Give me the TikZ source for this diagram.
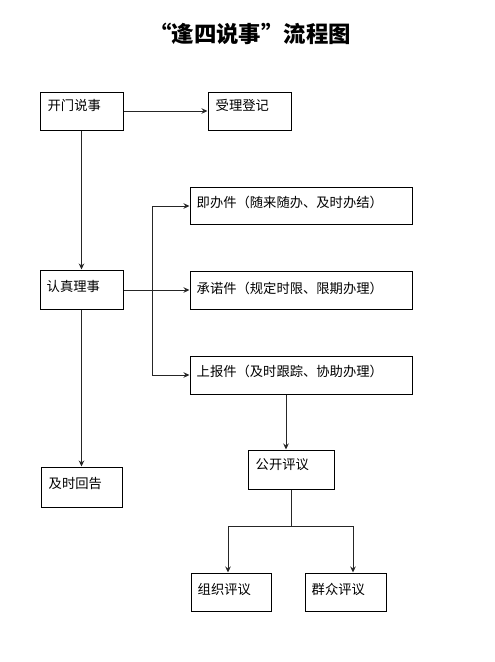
\documentclass[tikz,border=0pt]{standalone}
\usepackage{fontspec}
\setmainfont{Liberation Serif}
\newfontfamily\cjk{Noto Sans CJK SC}
\usetikzlibrary{arrows.meta,calc}
\tikzset{
  box/.style={draw=black, line width=1pt, rectangle, inner sep=0pt},
  lbl/.style={anchor=west, inner sep=0pt, font=\cjk\fontsize{13.3}{15}\selectfont},
  conn/.style={draw=black!85, line width=1pt},
  arr/.style={conn, -{Stealth[length=6pt,width=5.5pt]}}
}
\begin{document}
\begin{tikzpicture}[x=1pt,y=-1pt]
\useasboundingbox (0,0) rectangle (495,662);
% title
\node[font=\cjk\bfseries\fontsize{22.4}{26}\selectfont, inner sep=0pt] (title) at (250,34) {“逢四说事”流程图};
% boxes
\node[box, minimum width=83pt, minimum height=38pt] (kmss) at (81.5,111) {};
\node[lbl] (tkmss) at ($(kmss.west)+(8,-6)$) {开门说事};
\node[box, minimum width=83pt, minimum height=38pt] (sldj) at (249.5,111) {};
\node[lbl] (tsldj) at ($(sldj.west)+(8,-6)$) {受理登记};
\node[box, minimum width=83pt, minimum height=39pt] (rzls) at (81.5,289.5) {};
\node[lbl] (trzls) at ($(rzls.west)+(7,-3)$) {认真理事};
\node[box, minimum width=81pt, minimum height=40pt] (jshg) at (81.5,487) {};
\node[lbl] (tjshg) at ($(jshg.west)+(8,-4)$) {及时回告};
\node[box, minimum width=222pt, minimum height=37pt] (jbj) at (301,205.5) {};
\node[lbl] (tjbj) at ($(jbj.west)+(7,-3)$) {即办件（随来随办、及时办结）};
\node[box, minimum width=222pt, minimum height=38pt] (cnj) at (301,290) {};
\node[lbl] (tcnj) at ($(cnj.west)+(7,-2)$) {承诺件（规定时限、限期办理）};
\node[box, minimum width=222pt, minimum height=38pt] (sbj) at (301,375) {};
\node[lbl] (tsbj) at ($(sbj.west)+(7,-4)$) {上报件（及时跟踪、协助办理）};
\node[box, minimum width=86pt, minimum height=39pt] (gkpy) at (291,469.5) {};
\node[lbl] (tgkpy) at ($(gkpy.west)+(8,-5)$) {公开评议};
\node[box, minimum width=80pt, minimum height=38pt] (zzpy) at (231,592) {};
\node[lbl] (tzzpy) at ($(zzpy.west)+(7,-3)$) {组织评议};
\node[box, minimum width=81pt, minimum height=38pt] (qzpy) at (345.5,592) {};
\node[lbl] (tqzpy) at ($(qzpy.west)+(7,-3)$) {群众评议};
% connectors
\coordinate (trunkT) at (152,206);
\coordinate (trunkM) at (152,290);
\coordinate (trunkB) at (152,375);
\coordinate (splitC) at (291,526);
\coordinate (splitL) at (228,526);
\coordinate (splitR) at (353,526);
\draw[arr] (kmss.east) -- (sldj.east -| sldj.west);
\draw[arr] (kmss.south) -- (rzls.north);
\draw[arr] (rzls.south) -- (jshg.north);
\draw[conn] (rzls.east |- trunkM) -- (trunkM);
\draw[conn] (trunkT) -- (trunkB);
\draw[arr] (trunkT) -- (trunkT -| jbj.west);
\draw[arr] (trunkM) -- (trunkM -| cnj.west);
\draw[arr] (trunkB) -- (trunkB -| sbj.west);
\draw[arr] (sbj.south -| 286,0) -- (gkpy.north -| 286,0);
\draw[conn] (gkpy.south) -- (splitC);
\draw[conn] (splitL) -- (splitR);
\draw[arr] (splitL) -- (splitL |- zzpy.north);
\draw[arr] (splitR) -- (splitR |- qzpy.north);
\end{tikzpicture}
\end{document}
